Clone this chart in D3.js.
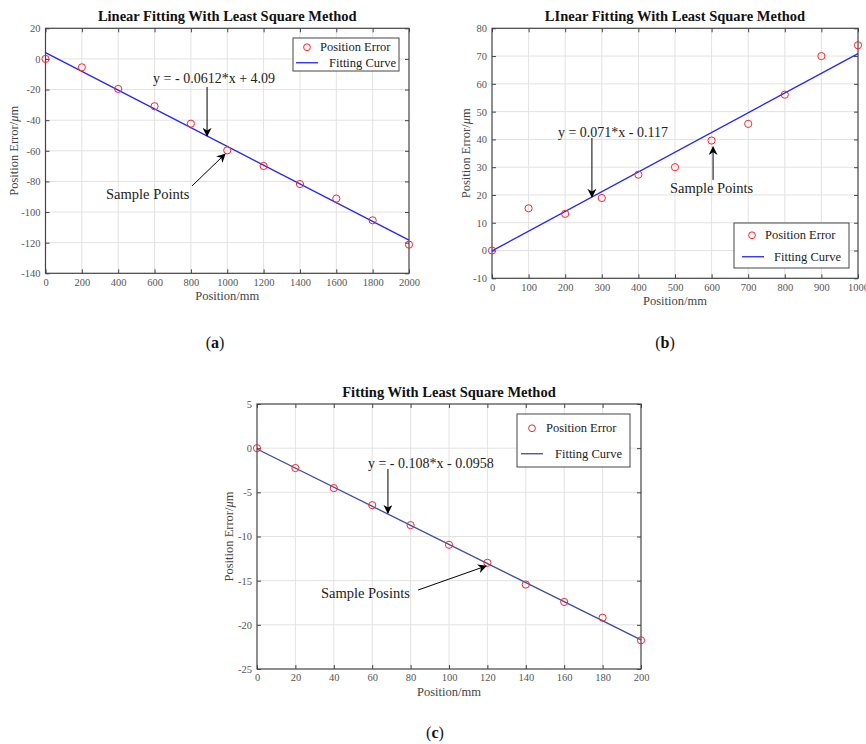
<!DOCTYPE html>
<html>
  <head>
    <meta charset="utf-8">
    <title>Linear fitting with least square method</title>
    <script src="https://d3js.org/d3.v7.min.js"></script>
    <style>
      body { margin: 0; background: #fff; }
      svg { font-family: "Palatino Linotype", "Book Antiqua", Palatino, "Liberation Serif", serif; }
      .grid line { stroke: #e2e2e2; stroke-width: 1; }
      .tick text { fill: #555; font-size: 10.5px; }
    </style>
  </head>
  <body>
    <div id="chart"></div>
    <script>
      // panel (a)
      var posA = [0, 200, 400, 600, 800, 1000, 1200, 1400, 1600, 1800, 2000];
      var errA = [0, -5.5, -19.6, -30.9, -42.3, -59.7, -69.9, -81.7, -91.2, -105.4, -121.3];
      var fitA = [-0.0612, 4.09];
      var xTicksA = [0, 200, 400, 600, 800, 1000, 1200, 1400, 1600, 1800, 2000];
      var yTicksA = [20, 0, -20, -40, -60, -80, -100, -120, -140];

      // panel (b)
      var posB = [0, 100, 200, 300, 400, 500, 600, 700, 800, 900, 1000];
      var errB = [0, 15.2, 13.2, 18.9, 27.3, 30.0, 39.6, 45.6, 56.1, 70.0, 73.9];
      var fitB = [0.071, -0.117];
      var xTicksB = [0, 100, 200, 300, 400, 500, 600, 700, 800, 900, 1000];
      var yTicksB = [80, 70, 60, 50, 40, 30, 20, 10, 0, -10];

      // panel (c)
      var posC = [0, 20, 40, 60, 80, 100, 120, 140, 160, 180, 200];
      var errC = [0, -2.25, -4.52, -6.45, -8.71, -10.94, -12.98, -15.44, -17.41, -19.19, -21.75];
      var fitC = [-0.108, -0.0958];
      var xTicksC = [0, 20, 40, 60, 80, 100, 120, 140, 160, 180, 200];
      var yTicksC = [5, 0, -5, -10, -15, -20, -25];

      var svg = d3.select("#chart").append("svg")
        .attr("width", 866)
        .attr("height", 744);

      svg.append("defs").append("marker")
        .attr("id", "arrow")
        .attr("viewBox", "0 0 10 10")
        .attr("refX", 9).attr("refY", 5)
        .attr("markerWidth", 9).attr("markerHeight", 9)
        .attr("markerUnits", "userSpaceOnUse")
        .attr("orient", "auto")
        .append("path")
        .attr("d", "M0,0 L10,5 L0,10 L3,5 Z")
        .attr("fill", "#000");

      var fmt = function(d) { return String(d); };

      function panel(p) {
        var g = svg.append("g");
        var x = d3.scaleLinear().domain(p.xDomain).range([p.left, p.right]);
        var y = d3.scaleLinear().domain(p.yDomain).range([p.bottom, p.top]);

        // grid
        g.append("g").attr("class", "grid").selectAll("line.v")
          .data(p.xTicks.slice(1, -1)).enter().append("line")
          .attr("x1", function(d) { return x(d); }).attr("x2", function(d) { return x(d); })
          .attr("y1", p.top).attr("y2", p.bottom);
        g.append("g").attr("class", "grid").selectAll("line.h")
          .data(p.yTicks.slice(1, -1)).enter().append("line")
          .attr("y1", function(d) { return y(d); }).attr("y2", function(d) { return y(d); })
          .attr("x1", p.left).attr("x2", p.right);

        // axes (inward ticks on all four sides, matlab style)
        var axes = [
          [d3.axisBottom(x).tickValues(p.xTicks).tickFormat(fmt).tickSize(-4).tickPadding(5), "translate(0," + p.bottom + ")", true],
          [d3.axisTop(x).tickValues(p.xTicks).tickSize(-4), "translate(0," + p.top + ")", false],
          [d3.axisLeft(y).tickValues(p.yTicks).tickFormat(fmt).tickSize(-4).tickPadding(5), "translate(" + p.left + ",0)", true],
          [d3.axisRight(y).tickValues(p.yTicks).tickSize(-4), "translate(" + p.right + ",0)", false]
        ];
        axes.forEach(function(a) {
          var s = g.append("g").attr("transform", a[1]).call(a[0]);
          s.attr("font-family", null).attr("font-size", null);
          if (!a[2]) s.selectAll("text").remove();
          s.select(".domain").remove();
          s.selectAll("line").attr("stroke", "#444");
        });

        g.append("rect")
          .attr("x", p.left).attr("y", p.top)
          .attr("width", p.right - p.left).attr("height", p.bottom - p.top)
          .attr("fill", "none").attr("stroke", "#444").attr("stroke-width", 1.2);

        // fitted line
        g.append("path")
          .datum(p.xDomain)
          .attr("d", d3.line()
            .x(function(d) { return x(d); })
            .y(function(d) { return y(p.fit[0] * d + p.fit[1]); }))
          .attr("stroke", p.lineColor).attr("stroke-width", 1.3).attr("fill", "none");

        // sample points
        g.selectAll("circle.pt")
          .data(p.pos).enter().append("circle")
          .attr("cx", function(d) { return x(d); })
          .attr("cy", function(d, i) { return y(p.err[i]); })
          .attr("r", 3.6)
          .attr("fill", "none").attr("stroke", "#f0282d").attr("stroke-width", 1);

        // titles & labels
        g.append("text")
          .attr("x", (p.left + p.right) / 2).attr("y", p.top - 7)
          .attr("text-anchor", "middle").attr("font-weight", "bold").attr("font-size", 14.5)
          .attr("fill", "#111")
          .text(p.title);
        g.append("text")
          .attr("x", (p.left + p.right) / 2).attr("y", p.bottom + 27)
          .attr("text-anchor", "middle").attr("font-size", 12.5).attr("fill", "#444")
          .text("Position/mm");
        var yl = g.append("text")
          .attr("transform", "translate(" + p.yLabelX + "," + (p.top + p.bottom) / 2 + ") rotate(-90)")
          .attr("text-anchor", "middle").attr("font-size", 12.5).attr("fill", "#444");
        yl.append("tspan").text("Position Error/");
        yl.append("tspan").attr("font-style", "italic").text("\u03bc");
        yl.append("tspan").text("m");

        // annotations
        g.append("text")
          .attr("x", x(p.eq[0])).attr("y", y(p.eq[1]))
          .attr("font-size", 14).attr("fill", "#222")
          .text(p.eqText);
        g.append("text")
          .attr("x", x(p.sp[0])).attr("y", y(p.sp[1]))
          .attr("font-size", 14.5).attr("fill", "#222")
          .text(p.spText);
        [p.eqArrow, p.spArrow].forEach(function(a) {
          g.append("line")
            .attr("x1", x(a[0])).attr("y1", y(a[1]))
            .attr("x2", x(a[2])).attr("y2", y(a[3]))
            .attr("stroke", "#000").attr("stroke-width", 1)
            .attr("marker-end", "url(#arrow)");
        });

        // legend
        var L = p.legend;
        var lg = g.append("g").attr("transform", "translate(" + L[0] + "," + L[1] + ")");
        lg.append("rect").attr("width", L[2]).attr("height", L[3])
          .attr("fill", "#fff").attr("stroke", "#444").attr("stroke-width", 1);
        var q = L[3] / 4;
        lg.append("circle").attr("cx", L[4]).attr("cy", q + 1).attr("r", 3.4)
          .attr("fill", "none").attr("stroke", "#f0282d").attr("stroke-width", 1);
        lg.append("text").attr("x", L[5]).attr("y", q + 5)
          .attr("font-size", 12.5).attr("fill", "#222").text("Position Error");
        lg.append("line").attr("x1", L[6]).attr("x2", L[6] + 22)
          .attr("y1", 3 * q).attr("y2", 3 * q)
          .attr("stroke", p.lineColor).attr("stroke-width", 1.3);
        lg.append("text").attr("x", L[7]).attr("y", 3 * q + 4)
          .attr("font-size", 12.5).attr("fill", "#222").text("Fitting Curve");

        // caption
        var cap = svg.append("text")
          .attr("x", p.capX).attr("y", p.capY)
          .attr("text-anchor", "middle").attr("font-size", 16).attr("fill", "#111");
        cap.append("tspan").text("(");
        cap.append("tspan").attr("font-weight", "bold").text(p.capText);
        cap.append("tspan").text(")");
      }

      panel({
        left: 45.5, right: 409, top: 28.3, bottom: 273.3,
        xDomain: [0, 2000], yDomain: [-140, 20],
        xTicks: xTicksA, yTicks: yTicksA,
        pos: posA, err: errA, fit: fitA, lineColor: "#2626f5",
        title: "Linear Fitting With Least Square Method",
        yLabelX: 18,
        eq: [592, -15.7], eqText: "y = - 0.0612*x + 4.09", eqArrow: [889, -18.3, 889, -50.3],
        sp: [333, -91.5], spText: "Sample Points", spArrow: [806, -83.0, 988, -62.1],
        legend: [293, 38, 106, 33, 14, 27, 3, 36],
        capX: 215, capY: 348, capText: "a"
      });

      panel({
        left: 492, right: 858, top: 28.3, bottom: 278.3,
        xDomain: [0, 1000], yDomain: [-10, 80],
        xTicks: xTicksB, yTicks: yTicksB,
        pos: posB, err: errB, fit: fitB, lineColor: "#2626f5",
        title: "LInear Fitting With Least Square Method",
        yLabelX: 470,
        eq: [180, 40.9], eqText: "y = 0.071*x - 0.117", eqArrow: [273, 40.5, 273, 19.3],
        sp: [486, 20.7], spText: "Sample Points", spArrow: [604, 25.4, 604, 37.3],
        legend: [734, 223, 115, 45, 18, 31, 8, 40],
        capX: 665, capY: 348, capText: "b"
      });

      panel({
        left: 257, right: 641, top: 404, bottom: 669,
        xDomain: [0, 200], yDomain: [-25, 5],
        xTicks: xTicksC, yTicks: yTicksC,
        pos: posC, err: errC, fit: fitC, lineColor: "#3a4c9e",
        title: "Fitting With Least Square Method",
        yLabelX: 233,
        eq: [57.8, -2.25], eqText: "y = - 0.108*x - 0.0958", eqArrow: [68.2, -2.36, 68.2, -7.34],
        sp: [33.3, -16.96], spText: "Sample Posints", spArrow: [83.9, -16.06, 119.3, -13.34],
        legend: [517, 414, 113, 53, 15, 29, 4, 38],
        capX: 435, capY: 738, capText: "c"
      });
    </script>
  </body>
</html>
